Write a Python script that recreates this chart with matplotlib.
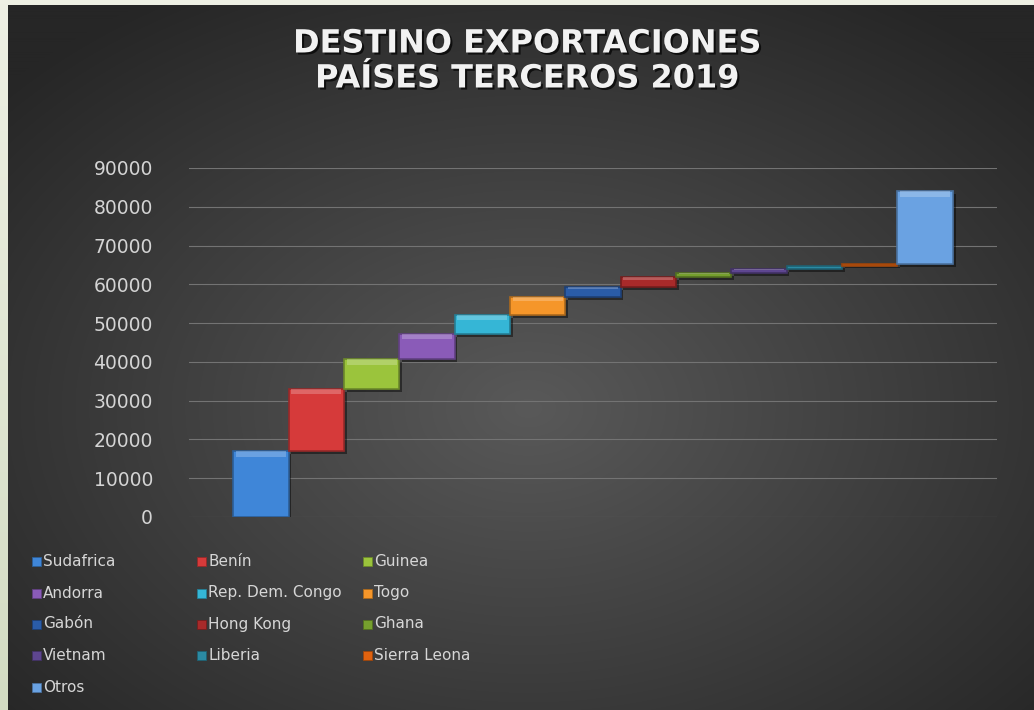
import numpy as np
import matplotlib
matplotlib.use("Agg")
import matplotlib.pyplot as plt
import matplotlib.patheffects as pe
from matplotlib.colors import to_rgb
from matplotlib.patches import Rectangle

# data
countries = ["Sudafrica", "Benín", "Guinea", "Andorra", "Rep. Dem. Congo", "Togo",
             "Gabón", "Hong Kong", "Ghana", "Vietnam", "Liberia", "Sierra Leona", "Otros"]
values = [17000, 16000, 7700, 6500, 4900, 4700, 2500, 2500, 1100, 1100, 800, 500, 18700]
colors = ["#3f86d8", "#d63a3a", "#9bc43c", "#8a5bb8", "#35b6d6", "#f5962a",
          "#2a5ca8", "#a82a2a", "#76a02e", "#5e4690", "#2b8aa3", "#e0620f", "#6aa2e2"]
yticks = [0, 10000, 20000, 30000, 40000, 50000, 60000, 70000, 80000, 90000]

W, H = 1034, 710
fig = plt.figure(figsize=(W / 100, H / 100), dpi=100)

# outer pale border (top light, bottom slightly greener)
bg = fig.add_axes([0, 0, 1, 1], zorder=-3)
top_c, bot_c = np.array(to_rgb("#eef0e4")), np.array(to_rgb("#d3dcc3"))
t = np.linspace(0, 1, 200)[:, None, None]
bg.imshow(top_c * (1 - t) + bot_c * t, aspect="auto", extent=[0, 1, 0, 1])
bg.axis("off")

# dark radial panel
px0 = 8 / W
panel = fig.add_axes([px0, 0, 1 - px0, 1 - 5 / H], zorder=-2)
yy, xx = np.mgrid[0:700, 0:1026]
r = np.sqrt(((xx - 520) / 700) ** 2 + ((yy - 400) / 480) ** 2)
r = np.clip(r, 0, 1)
c_in, c_out = np.array(to_rgb("#595959")), np.array(to_rgb("#262626"))
img = c_in[None, None, :] * (1 - r[..., None]) + c_out[None, None, :] * r[..., None]
panel.imshow(img, aspect="auto", extent=[0, 1, 0, 1])
panel.axis("off")

# title
title_fx = [pe.withSimplePatchShadow(offset=(1.5, -1.5), shadow_rgbFace="black", alpha=0.7)]
fig.text(0.51, 1 - 44 / H, "DESTINO EXPORTACIONES", ha="center", va="center",
         fontsize=23, fontweight="bold", color="#f2f2f2", path_effects=title_fx)
fig.text(0.51, 1 - 79 / H, "PAÍSES TERCEROS 2019", ha="center", va="center",
         fontsize=23, fontweight="bold", color="#f2f2f2", path_effects=title_fx)

# waterfall chart
ax = fig.add_axes([189 / W, (H - 517) / H, (997 - 189) / W, (517 - 168) / H])
ax.patch.set_alpha(0)
x = np.arange(len(countries))
vals = np.array(values)
bottoms = np.concatenate([[0], np.cumsum(vals)[:-1]])

shadow = [pe.SimplePatchShadow(offset=(2, -2), shadow_rgbFace="black", alpha=0.45), pe.Normal()]
for xi, b, v, c in zip(x, bottoms, vals, colors):
    rgb = np.array(to_rgb(c))
    dark = rgb * 0.7
    light = rgb + (1 - rgb) * 0.45
    ax.bar(xi, v, bottom=b, width=1.0, color=c, edgecolor=dark, linewidth=1.2,
           zorder=3, path_effects=shadow)
    hl = min(v * 0.25, 1400)
    ax.bar(xi, hl, bottom=b + v - hl, width=0.9, color=light,
           linewidth=0, alpha=0.5, zorder=4)

ax.set_xlim(-1.3, 13.3)
ax.set_ylim(0, 90000)
ax.set_yticks(yticks)
ax.set_yticklabels([str(v) for v in yticks])
ax.set_xticks([])
ax.tick_params(axis="y", length=0, pad=26, labelsize=13.5, labelcolor="#d4d4d4")
ax.grid(axis="y", color="#737373", linewidth=0.8, zorder=0)
for s in ax.spines.values():
    s.set_visible(False)

# legend (3 columns, row-wise order)
col_x = [32, 197, 363]
row_y = [561, 593, 624, 655, 687]
for i, (name, c) in enumerate(zip(countries, colors)):
    cx = col_x[i % 3]
    cy = row_y[i // 3]
    fig.add_artist(Rectangle((cx / W, (H - cy - 4.5) / H), 9 / W, 9 / H,
                             transform=fig.transFigure, facecolor=c,
                             edgecolor=np.array(to_rgb(c)) * 0.7, linewidth=0.6))
    fig.text((cx + 11) / W, (H - cy) / H, name, ha="left", va="center",
             fontsize=11, color="#d6d6d6")

fig.savefig("out.png", dpi=100)
